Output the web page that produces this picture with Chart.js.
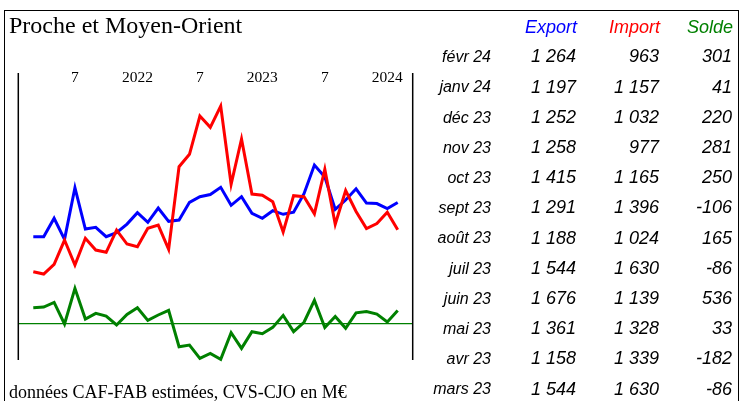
<!DOCTYPE html>
<html>
<head>
<meta charset="utf-8">
<script src="https://cdn.jsdelivr.net/npm/chart.js@4"></script>
<style>
  html, body { margin: 0; padding: 0; background: #fff; }
  #wrap { position: relative; width: 741px; height: 401px; overflow: hidden; }
  #frame { position: absolute; left: 4px; top: 10px; width: 733px; height: 420px; border: 1.5px solid #000; }
  #c { position: absolute; left: 0; top: 0; }
  .serif { position: absolute; font-family: "Liberation Serif", "Times New Roman", serif; line-height: 1; white-space: nowrap; color: #000; }
  .cell { position: absolute; font-family: "Liberation Sans", Arial, sans-serif; font-style: italic; line-height: 1; white-space: nowrap; text-align: right; color: #000; }
</style>
</head>
<body>
<div id="wrap">
  <div id="frame"></div>
  <canvas id="c" width="741" height="401"></canvas>
  <div class="serif" style="left:9px;top:13px;font-size:24px">Proche et Moyen-Orient</div>
  <div class="serif" style="left:9px;top:382.6px;font-size:18px">données CAF-FAB estimées, CVS-CJO en M€</div>
  <div id="table"></div>
</div>
<script>
// monthly series, mars 2021 -> févr 2024
const exportVals = [888, 888, 1090, 859, 1427, 972, 991, 888, 932, 1027, 1152, 1046,
  1203, 1057, 1071, 1266, 1328, 1352, 1431, 1233, 1328, 1145, 1090, 1174,
  1134, 1158, 1361, 1676, 1544, 1188, 1291, 1415, 1258, 1252, 1197, 1264];
const importVals = [503, 477, 584, 851, 576, 870, 741, 716, 961, 807, 778, 980,
  1016, 749, 1658, 1794, 2215, 2091, 2325, 1464, 1962, 1357, 1343, 1273,
  939, 1339, 1328, 1139, 1630, 1024, 1396, 1165, 977, 1032, 1157, 963];
const soldeVals = [368, 384, 490, -7, 812, 108, 237, 177, -30, 214, 368, 76,
  200, 306, -529, -490, -798, -683, -821, -207, -568, -184, -230, -85,
  191, -182, 33, 536, -86, 165, -106, 250, 281, 220, 41, 301];

// axis labels on top (index of the month in the series)
const tickIdx = [4, 10, 16, 22, 28, 34];
const tickText = ["7", "2022", "7", "2023", "7", "2024"];

// table on the right
const tableMonths = ["févr 24", "janv 24", "déc 23", "nov 23", "oct 23", "sept 23",
  "août 23", "juil 23", "juin 23", "mai 23", "avr 23", "mars 23"];
const tableExport = [1264, 1197, 1252, 1258, 1415, 1291, 1188, 1544, 1676, 1361, 1158, 1544];
const tableImport = [963, 1157, 1032, 977, 1165, 1396, 1024, 1630, 1139, 1328, 1339, 1630];
const tableSolde = [301, 41, 220, 281, 250, -106, 165, -86, 536, 33, -182, -86];

const fmt = n => {
  const a = Math.abs(n);
  const s = a >= 1000 ? Math.floor(a / 1000) + " " + String(a % 1000).padStart(3, "0") : String(a);
  return (n < 0 ? "-" : "") + s;
};

// build the table as html text
const table = document.getElementById("table");
function cell(text, right, baseline, size, color) {
  const d = document.createElement("div");
  d.className = "cell";
  d.textContent = text;
  d.style.right = (741 - right) + "px";
  d.style.top = (baseline - size * 0.8465) + "px";
  d.style.fontSize = size + "px";
  if (color) d.style.color = color;
  table.appendChild(d);
}
cell("Export", 577, 33.3, 18, "#0000ff");
cell("Import", 660, 33.3, 18, "#ff0000");
cell("Solde", 733, 33.3, 18, "#008000");
tableMonths.forEach((m, k) => {
  const b = 62.7 + k * 30.2;
  cell(m, 491, b, 16);
  cell(fmt(tableExport[k]), 576, b, 18);
  cell(fmt(tableImport[k]), 659, b, 18);
  cell(fmt(tableSolde[k]), 732, b, 18);
});

const toXY = arr => arr.map((v, i) => ({ x: i, y: v }));

const frame = {
  id: "frame",
  beforeDatasetsDraw(chart) {
    const { ctx, chartArea: a, scales } = chart;
    const y0 = scales.y2.getPixelForValue(0);
    ctx.save();
    ctx.strokeStyle = "#008000";
    ctx.lineWidth = 1.3;
    ctx.beginPath();
    ctx.moveTo(a.left, y0);
    ctx.lineTo(a.right, y0);
    ctx.stroke();
    ctx.strokeStyle = "#000";
    ctx.lineWidth = 1.5;
    ctx.beginPath();
    ctx.moveTo(a.left, a.top);
    ctx.lineTo(a.left, a.bottom);
    ctx.moveTo(a.right, a.top);
    ctx.lineTo(a.right, a.bottom);
    ctx.stroke();
    ctx.fillStyle = "#000";
    ctx.font = '15.5px "Liberation Serif", serif';
    ctx.textAlign = "center";
    ctx.textBaseline = "alphabetic";
    tickIdx.forEach((v, i) => {
      ctx.fillText(tickText[i], scales.x.getPixelForValue(v), a.top + 9);
    });
    ctx.restore();
  }
};

new Chart(document.getElementById("c"), {
  type: "line",
  data: {
    datasets: [
      { label: "Import", data: toXY(importVals), borderColor: "#ff0000", yAxisID: "y", order: 1 },
      { label: "Export", data: toXY(exportVals), borderColor: "#0000ff", yAxisID: "y", order: 2 },
      { label: "Solde", data: toXY(soldeVals), borderColor: "#008000", yAxisID: "y2", order: 0 }
    ]
  },
  options: {
    responsive: false,
    animation: false,
    layout: { padding: { left: 18.3, right: 328.3, top: 73, bottom: 41 } },
    elements: {
      line: { borderWidth: 3, tension: 0, borderJoinStyle: "miter", capBezierPoints: false },
      point: { radius: 0 }
    },
    datasets: { line: { clip: false } },
    scales: {
      x: { type: "linear", min: -1.44, max: 36.44, display: false },
      y: { min: -468.6, max: 2688.4, display: false },
      y2: { min: -835, max: 5766, display: false }
    },
    plugins: { legend: { display: false }, tooltip: { enabled: false } }
  },
  plugins: [frame]
});
</script>
</body>
</html>
